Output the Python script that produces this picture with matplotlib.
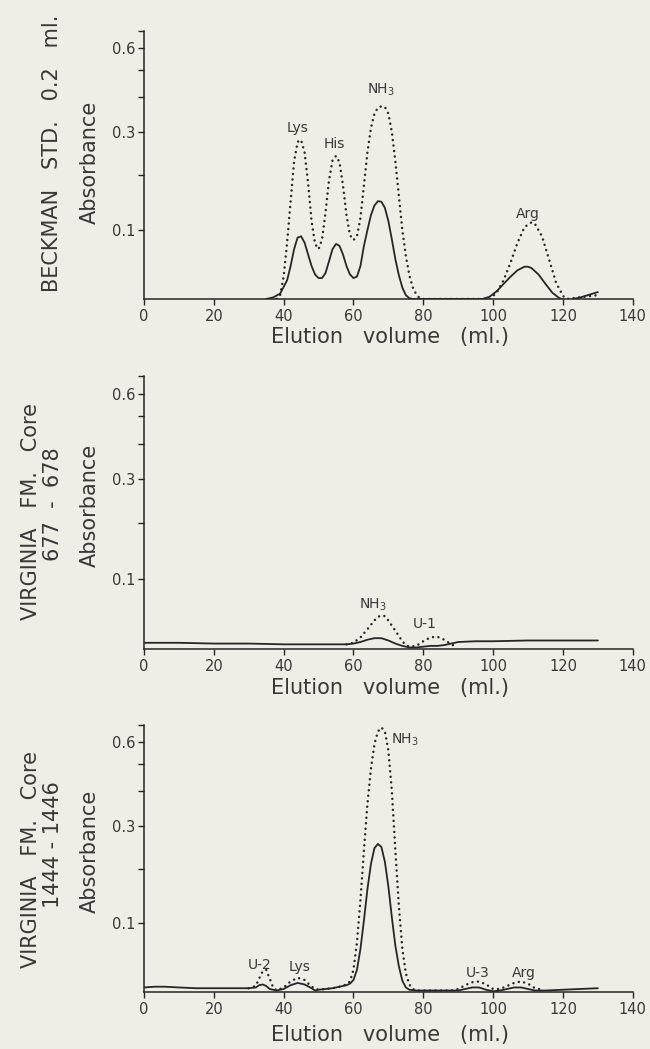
import numpy as np
import matplotlib
matplotlib.use('Agg')
import matplotlib.pyplot as plt
from matplotlib.transforms import blended_transform_factory

# ---- data (absorbance) ----
# panel 1: Beckman standard
std_x_solid = [35, 37, 39, 41, 42, 43, 44, 45, 46, 47, 48, 49, 50, 51, 52, 53, 54, 55, 56, 57,
               58, 59, 60, 61, 62, 63, 64, 65, 66, 67, 68, 69, 70, 71, 72, 73, 74, 75, 76, 77,
               97, 99, 101, 103, 105, 107, 109, 110, 111, 113, 115, 117, 119, 121, 125, 130]
std_y_solid = [0.0, 0.002, 0.007, 0.025, 0.045, 0.070, 0.088, 0.090, 0.080, 0.062, 0.045, 0.033,
               0.028, 0.028, 0.035, 0.052, 0.070, 0.078, 0.075, 0.062, 0.045, 0.033, 0.028, 0.030,
               0.045, 0.075, 0.100, 0.125, 0.142, 0.150, 0.149, 0.138, 0.115, 0.085, 0.055, 0.032,
               0.015, 0.005, 0.001, 0.0,
               0.0, 0.003, 0.010, 0.020, 0.030, 0.039, 0.044, 0.044, 0.042, 0.033, 0.020, 0.008,
               0.001, -0.002, 0.002, 0.009]
std_x_dot = [38, 39, 40, 41, 42, 43, 44, 45, 46, 47, 48, 49, 50, 51, 52, 53, 54, 55, 56, 57,
             58, 59, 60, 61, 62, 63, 64, 65, 66, 67, 68, 69, 70, 71, 72, 73, 74, 75, 76, 77,
             78, 79, 80, 99, 101, 103, 105, 107, 109, 111, 112, 114, 116, 118, 120, 121, 130]
std_y_dot = [0.0, 0.005, 0.030, 0.080, 0.150, 0.230, 0.275, 0.280, 0.250, 0.185, 0.115, 0.078,
             0.070, 0.085, 0.130, 0.190, 0.232, 0.242, 0.228, 0.180, 0.125, 0.092, 0.084, 0.090,
             0.120, 0.180, 0.250, 0.310, 0.350, 0.368, 0.372, 0.370, 0.350, 0.300, 0.230, 0.160,
             0.100, 0.060, 0.032, 0.015, 0.006, 0.001, 0.0,
             0.0, 0.008, 0.025, 0.050, 0.080, 0.105, 0.113, 0.110, 0.090, 0.055, 0.022, 0.004,
             0.0, 0.005]

# panel 2: core 677-678
c1_x_solid = [0, 10, 20, 30, 40, 50, 58, 60, 62, 64, 66, 68, 70, 72, 74, 76, 78, 80, 82, 84,
              86, 88, 90, 95, 100, 110, 120, 130]
c1_y_solid = [0.008, 0.008, 0.007, 0.007, 0.006, 0.006, 0.006, 0.007, 0.009, 0.012, 0.014,
              0.014, 0.011, 0.007, 0.004, 0.002, 0.002, 0.003, 0.004, 0.004, 0.005, 0.007,
              0.009, 0.010, 0.010, 0.011, 0.011, 0.011]
c1_x_dot = [58, 60, 62, 64, 66, 67, 68, 69, 70, 72, 74, 75, 76, 78, 80, 82, 84, 86, 88, 89]
c1_y_dot = [0.006, 0.008, 0.015, 0.026, 0.038, 0.043, 0.045, 0.044, 0.038, 0.024, 0.010,
            0.005, 0.003, 0.004, 0.010, 0.015, 0.016, 0.012, 0.006, 0.004]

# panel 3: core 1444-1446
c2_x_solid = [0, 3, 6, 10, 15, 20, 25, 30, 32, 33, 34, 35, 36, 38, 40, 42, 44, 46, 48, 49,
              50, 52, 54, 56, 58, 59, 60, 61, 62, 63, 64, 65, 66, 67, 68, 69, 70, 71, 72, 73,
              74, 75, 76, 78, 80, 85, 90, 92, 94, 96, 98, 100, 102, 104, 106, 108, 110, 112,
              115, 120, 125, 130]
c2_y_solid = [0.006, 0.007, 0.007, 0.006, 0.005, 0.005, 0.005, 0.005, 0.006, 0.009, 0.010,
              0.008, 0.004, 0.002, 0.004, 0.009, 0.012, 0.010, 0.005, 0.002, 0.003, 0.004,
              0.005, 0.007, 0.009, 0.011, 0.016, 0.030, 0.060, 0.105, 0.160, 0.210, 0.245,
              0.255, 0.248, 0.215, 0.165, 0.110, 0.065, 0.035, 0.015, 0.006, 0.003, 0.002,
              0.002, 0.002, 0.002, 0.004, 0.006, 0.006, 0.003, 0.001, 0.002, 0.004, 0.006,
              0.006, 0.004, 0.002, 0.002, 0.003, 0.004, 0.005]
c2_x_dot = [30, 32, 33, 34, 35, 36, 37, 38, 40, 42, 44, 46, 48, 50, 52, 54, 56, 58, 59, 60,
            61, 62, 63, 64, 65, 66, 67, 68, 69, 70, 71, 72, 73, 74, 75, 76, 77, 78, 80, 88,
            90, 92, 94, 96, 98, 100, 102, 104, 106, 108, 110, 112, 114]
c2_y_dot = [0.005, 0.008, 0.018, 0.028, 0.030, 0.018, 0.006, 0.002, 0.006, 0.014, 0.019,
            0.016, 0.007, 0.003, 0.004, 0.005, 0.007, 0.010, 0.014, 0.030, 0.070, 0.140,
            0.240, 0.360, 0.480, 0.590, 0.660, 0.685, 0.660, 0.560, 0.400, 0.240, 0.130,
            0.060, 0.025, 0.010, 0.004, 0.002, 0.002, 0.002, 0.004, 0.009, 0.013, 0.014,
            0.010, 0.004, 0.004, 0.008, 0.012, 0.014, 0.011, 0.005, 0.003]

# peak labels: (text, x in ml, height as axes fraction)
std_labels = [('Lys', 44, 0.638), ('His', 54.4, 0.578), ('NH$_3$', 68, 0.78), ('Arg', 110, 0.317)]
c1_labels = [('NH$_3$', 65.7, 0.161), ('U-1', 80.5, 0.092)]
c2_labels = [('U-2', 33, 0.101), ('Lys', 44.6, 0.094), ('NH$_3$', 74.8, 0.944),
             ('U-3', 95.5, 0.071), ('Arg', 108.8, 0.071)]

x_ticks = [0, 20, 40, 60, 80, 100, 120, 140]
y_major = [0.1, 0.3, 0.6]
y_minor = [0.2, 0.4, 0.5, 0.7]

bg = '#eeede6'
ink = '#262626'
txt = '#383838'


# absorbance axis printed linear in transmittance
def fwd(a):
    return 1 - np.power(10.0, -np.asarray(a, dtype=float))


def inv(t):
    t = np.clip(np.asarray(t, dtype=float), -10, 0.9999)
    return -np.log10(1 - t)


fig = plt.figure(figsize=(6.5, 10.49), dpi=100, facecolor=bg)

panels = [
    (0.2215, 0.715, 0.752, 0.2555, std_x_solid, std_y_solid, std_x_dot, std_y_dot, std_labels),
    (0.2215, 0.3813, 0.752, 0.2603, c1_x_solid, c1_y_solid, c1_x_dot, c1_y_dot, c1_labels),
    (0.2215, 0.0543, 0.752, 0.2545, c2_x_solid, c2_y_solid, c2_x_dot, c2_y_dot, c2_labels),
]

for left, bottom, w, h, xs, ys, xd, yd, labels in panels:
    ax = fig.add_axes([left, bottom, w, h])
    ax.set_facecolor('none')
    ax.plot(xs, ys, color=ink, lw=1.3, solid_capstyle='round')
    ax.plot(xd, yd, color=ink, lw=1.8, linestyle=(0, (0.01, 2.2)), dash_capstyle='round')
    ax.set_yscale('function', functions=(fwd, inv))
    ax.set_xlim(0, 140)
    ax.set_ylim(0, 0.7)
    ax.set_xticks(x_ticks)
    ax.set_xticklabels([str(t) for t in x_ticks])
    ax.set_yticks(y_major)
    ax.set_yticklabels(['0.1', '0.3', '0.6'])
    ax.set_yticks(y_minor, minor=True)
    ax.tick_params(axis='both', which='major', direction='out', length=4, width=1,
                   color=ink, labelcolor=txt, labelsize=10.5, pad=2)
    ax.tick_params(axis='y', which='minor', direction='out', length=4, width=1, color=ink)
    ax.tick_params(axis='x', which='minor', length=0)
    ax.tick_params(axis='x', pad=3)
    for s in ['top', 'right']:
        ax.spines[s].set_visible(False)
    for s in ['left', 'bottom']:
        ax.spines[s].set_color(ink)
        ax.spines[s].set_linewidth(1.1)
    tr = blended_transform_factory(ax.transData, ax.transAxes)
    for name, lx, ly in labels:
        ax.text(lx, ly, name, transform=tr, ha='center', va='center', fontsize=10, color=txt)


def fy(py):
    return 1 - py / 1049.0


def fx(px):
    return px / 650.0


# axis titles
for yc in [162, 505, 851]:
    fig.text(fx(90), fy(yc), 'Absorbance', rotation=90, ha='center', va='center',
             fontsize=15, color=txt)
for yc in [337, 688, 1035]:
    fig.text(fx(390), fy(yc), 'Elution   volume   (ml.)', ha='center', va='center',
             fontsize=15, color=txt)

# sample names
fig.text(fx(52), fy(153), 'BECKMAN   STD.   0.2   ml.', rotation=90, ha='center', va='center',
         fontsize=15, color=txt)
fig.text(fx(31), fy(512), 'VIRGINIA   FM.   Core', rotation=90, ha='center', va='center',
         fontsize=15, color=txt)
fig.text(fx(53), fy(504), '677  -  678', rotation=90, ha='center', va='center',
         fontsize=15, color=txt)
fig.text(fx(31), fy(859), 'VIRGINIA   FM.   Core', rotation=90, ha='center', va='center',
         fontsize=15, color=txt)
fig.text(fx(53), fy(845), '1444 - 1446', rotation=90, ha='center', va='center',
         fontsize=15, color=txt)

fig.savefig('out.png', dpi=100, facecolor=bg)
